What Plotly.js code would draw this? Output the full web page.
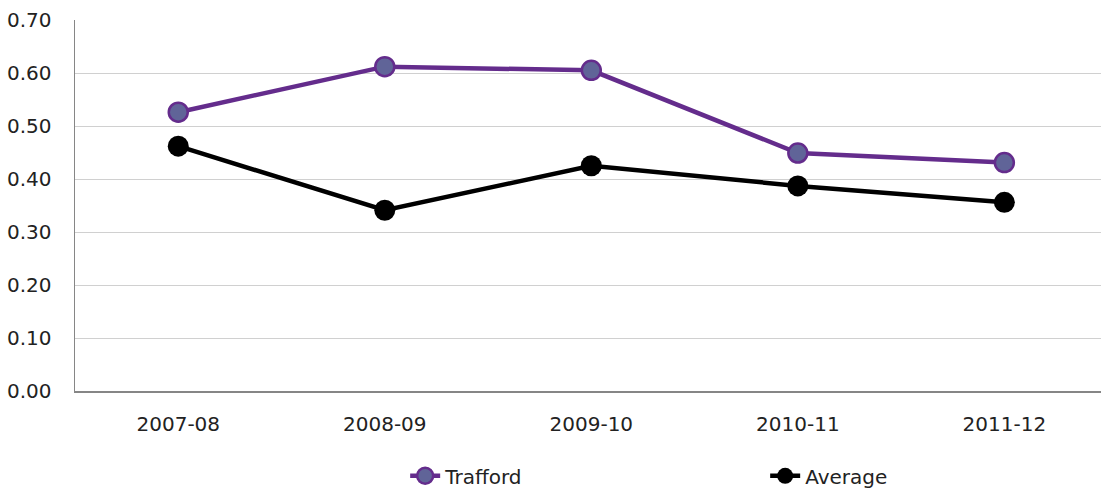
<!DOCTYPE html>
<html>
<head>
<meta charset="utf-8">
<script src="https://cdn.plot.ly/plotly-3.0.1.min.js"></script>
<style>html,body{margin:0;padding:0;background:#fff;}#chart{width:1101px;height:488px;}</style>
</head>
<body>
<div id="chart"></div>
<script>
const categories = ["2007-08", "2008-09", "2009-10", "2010-11", "2011-12"];
const trafford = [0.526, 0.612, 0.605, 0.449, 0.431];
const average = [0.462, 0.341, 0.425, 0.387, 0.356];
const yTicks = [0, 0.1, 0.2, 0.3, 0.4, 0.5, 0.6, 0.7];
const yTickLabels = ["0.00", "0.10", "0.20", "0.30", "0.40", "0.50", "0.60", "0.70"];

const font = {family: "DejaVu Sans, Verdana, sans-serif", size: 20, color: "#222"};

const traces = [
  {
    x: categories, y: trafford, name: "Trafford", type: "scatter", mode: "lines+markers",
    line: {color: "#642C8C", width: 4.5},
    marker: {size: 19, color: "#606498", line: {color: "#642C8C", width: 2.5}}
  },
  {
    x: categories, y: average, name: "Average", type: "scatter", mode: "lines+markers",
    line: {color: "#000000", width: 4.5},
    marker: {size: 21, color: "#000000"}
  }
];

const layout = {
  width: 1101, height: 488,
  margin: {l: 75, r: 0, t: 20, b: 97, autoexpand: false},
  paper_bgcolor: "#fff", plot_bgcolor: "#fff",
  font: font,
  showlegend: true,
  legend: {
    orientation: "h", xref: "container", yref: "container",
    x: 0.368, xanchor: "left", y: 0.025, yanchor: "middle",
    entrywidth: 315, entrywidthmode: "pixels",
    font: font
  },
  xaxis: {
    type: "category", range: [-0.5, 4.468],
    showgrid: false, showline: true, linecolor: "#868686", linewidth: 1.5,
    ticks: "", ticklabelstandoff: 14, tickfont: font, fixedrange: true
  },
  yaxis: {
    range: [0, 0.7], tickvals: yTicks, ticktext: yTickLabels,
    showgrid: true, gridcolor: "#d0d0d0", gridwidth: 1,
    showline: true, linecolor: "#868686", linewidth: 1.5,
    zeroline: false, ticks: "", ticklabelstandoff: 18, tickfont: font, fixedrange: true
  }
};

Plotly.newPlot("chart", traces, layout, {displayModeBar: false, staticPlot: true});
</script>
</body>
</html>
